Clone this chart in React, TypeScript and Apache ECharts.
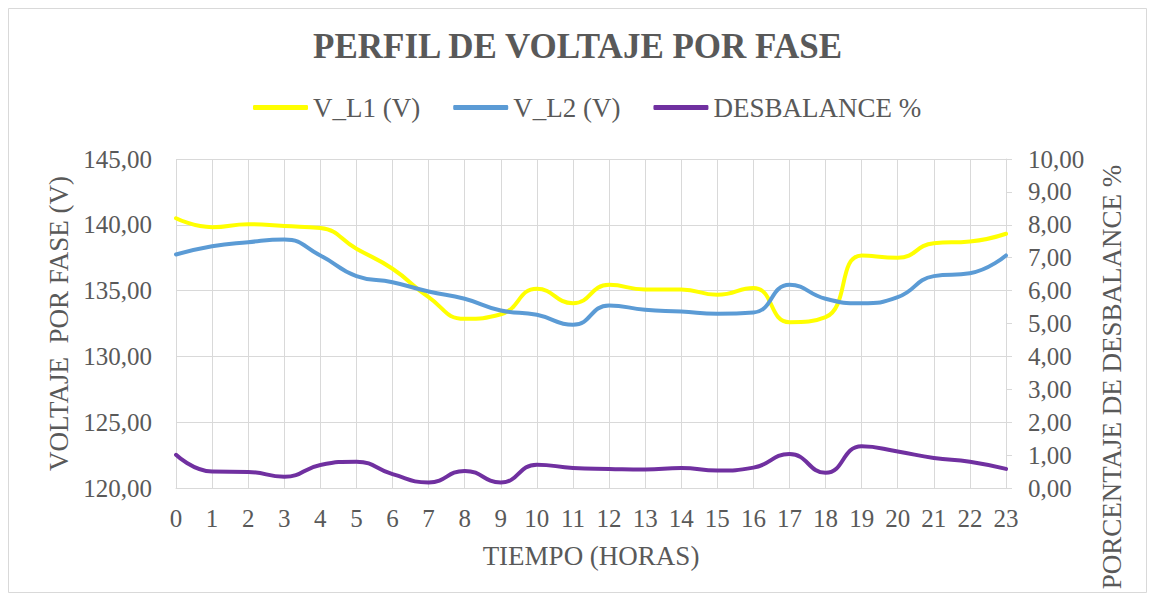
import React, { useEffect, useRef } from "react";
import * as echarts from "echarts";

const hours = ["0","1","2","3","4","5","6","7","8","9","10","11","12","13","14","15","16","17","18","19","20","21","22","23"];
const vL1 = [140.5, 139.82, 140.05, 139.9, 139.75, 138.18, 136.66, 134.5, 132.86, 133.2, 135.14, 134.04, 135.44, 135.08, 135.08, 134.68, 135.2, 132.6, 132.98, 137.67, 137.49, 138.6, 138.73, 139.32];
const vL2 = [137.74, 138.37, 138.68, 138.88, 137.67, 136.1, 135.64, 134.93, 134.38, 133.49, 133.16, 132.4, 133.87, 133.54, 133.41, 133.24, 133.33, 135.44, 134.38, 134.04, 134.5, 136.1, 136.32, 137.67];
const desbalance = [1.01, 0.5, 0.49, 0.34, 0.7, 0.8, 0.42, 0.17, 0.52, 0.17, 0.71, 0.61, 0.58, 0.56, 0.61, 0.53, 0.62, 1.03, 0.46, 1.27, 1.11, 0.91, 0.8, 0.58];
const seriesNames = ["V_L1 (V)", "V_L2 (V)", "DESBALANCE %"];
const colors = ["#FFFF00", "#5B9BD5", "#7030A0"];

const FONT = "'Liberation Serif', 'Times New Roman', serif";
const TXT = "#595959";
const GRID = "#d9d9d9";
const fmt = (v: number) => v.toFixed(2).replace(".", ",");

export default function App() {
  const ref = useRef<HTMLDivElement>(null);
  useEffect(() => {
    if (!ref.current) return;
    const chart = echarts.init(ref.current, null, { renderer: "svg" });
    chart.setOption({
      animation: false,
      textStyle: { fontFamily: FONT },
      title: {
        text: "PERFIL DE VOLTAJE POR FASE",
        left: "center",
        top: 16,
        textStyle: { fontFamily: FONT, fontSize: 35, fontWeight: "bold", color: TXT },
      },
      legend: {
        top: 81,
        left: 240,
        itemWidth: 55,
        itemHeight: 5,
        itemGap: 33,
        icon: "roundRect",
        textStyle: { fontFamily: FONT, fontSize: 27, color: TXT },
        data: seriesNames,
      },
      graphic: [
        {
          type: "rect",
          shape: { x: 0.5, y: 0.5, width: 1138, height: 584 },
          style: { fill: "none", stroke: GRID, lineWidth: 1 },
          silent: true,
        },
        {
          type: "text",
          x: 1104,
          y: 369,
          rotation: Math.PI / 2,
          style: {
            text: "PORCENTAJE DE DESBALANCE %",
            fontFamily: FONT,
            fontSize: 27,
            fill: TXT,
            align: "center",
            verticalAlign: "middle",
          },
        },
      ],
      grid: { left: 168, right: 141, top: 151, bottom: 105, containLabel: false },
      xAxis: {
        type: "category",
        data: hours,
        boundaryGap: false,
        name: "TIEMPO (HORAS)",
        nameLocation: "middle",
        nameGap: 54,
        nameTextStyle: { fontFamily: FONT, fontSize: 27, color: TXT },
        axisLine: { lineStyle: { color: GRID, width: 1 } },
        axisTick: { show: false },
        axisLabel: { fontFamily: FONT, fontSize: 25, color: TXT, margin: 18, interval: 0 },
        splitLine: { show: true, lineStyle: { color: GRID, width: 1 } },
      },
      yAxis: [
        {
          type: "value",
          min: 120,
          max: 145,
          interval: 5,
          name: "VOLTAJE  POR FASE (V)",
          nameLocation: "middle",
          nameGap: 104,
          nameTextStyle: { fontFamily: FONT, fontSize: 27, color: TXT },
          axisLine: { show: false },
          axisTick: { show: false },
          axisLabel: { fontFamily: FONT, fontSize: 25, color: TXT, margin: 24, formatter: fmt },
          splitLine: { show: true, lineStyle: { color: GRID, width: 1 } },
        },
        {
          type: "value",
          min: 0,
          max: 10,
          interval: 1,
          position: "right",
          axisLine: { show: true, lineStyle: { color: GRID, width: 1 } },
          axisTick: { show: true, inside: false, length: 6, lineStyle: { color: GRID } },
          axisLabel: { fontFamily: FONT, fontSize: 25, color: TXT, margin: 22, formatter: fmt },
          splitLine: { show: false },
        },
      ],
      series: [
        {
          name: seriesNames[0],
          type: "line",
          data: vL1,
          yAxisIndex: 0,
          smooth: true,
          showSymbol: false,
          color: colors[0],
          lineStyle: { width: 4, color: colors[0], cap: "round" },
        },
        {
          name: seriesNames[1],
          type: "line",
          data: vL2,
          yAxisIndex: 0,
          smooth: true,
          showSymbol: false,
          color: colors[1],
          lineStyle: { width: 4, color: colors[1], cap: "round" },
        },
        {
          name: seriesNames[2],
          type: "line",
          data: desbalance,
          yAxisIndex: 1,
          smooth: true,
          showSymbol: false,
          color: colors[2],
          lineStyle: { width: 4, color: colors[2], cap: "round" },
        },
      ],
    });
    return () => chart.dispose();
  }, []);
  return <div ref={ref} style={{ width: 1139, height: 585 }} />;
}
